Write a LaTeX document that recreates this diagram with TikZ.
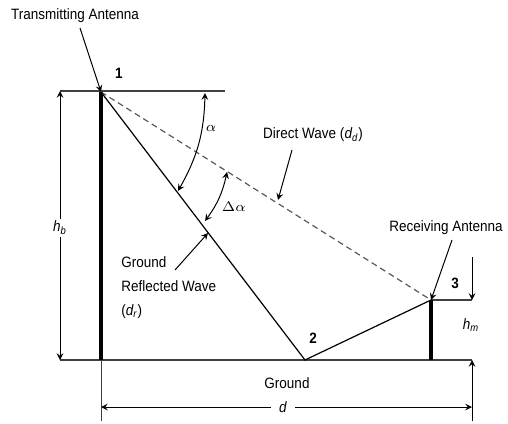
\documentclass[tikz,border=0pt]{standalone}
\usepackage{fontspec}
\setmainfont{Liberation Sans}[FakeStretch=0.9]
\usetikzlibrary{arrows}
\tikzstyle{lbl} = [font=\fontsize{7.5}{12}\selectfont, inner sep=1pt]
\tikzstyle{num} = [font=\fontsize{7.5}{9}\selectfont\bfseries, inner sep=1pt]
\tikzstyle{arrow} = [->,>=stealth,line width=0.5pt]
\tikzstyle{twoarrow} = [<->,>=stealth,line width=0.5pt]
\tikzstyle{line} = [line width=0.6pt, draw=black!75]
\tikzstyle{mast} = [line width=2pt]
\tikzstyle{wave} = [line width=0.6pt]
\tikzstyle{direct} = [line width=0.6pt, draw=black!65, dash pattern=on 3pt off 2pt]

\begin{document}
\begin{tikzpicture}[x=0.5pt, y=-0.5pt]
  \useasboundingbox (0,0) rectangle (508,423);
  \coordinate (p1) at (101,92);
  \coordinate (p2) at (305,360);
  \coordinate (p3) at (431,300);
  \coordinate (tbase) at (101,360);
  \coordinate (rbase) at (431,360);
  \coordinate (topl) at (60,91);
  \coordinate (topr) at (225,91);
  \coordinate (gndl) at (60,360);
  \coordinate (gndr) at (472,360);
  \coordinate (rtop) at (472,300);
  \coordinate (hmtop) at (472,257);
  \coordinate (extl) at (101,421);
  \coordinate (extr) at (472,421);
  \coordinate (dl) at (101,407);
  \coordinate (dr) at (472,407);

  % reference lines and ground
  \draw [line] (topl) -- (topr);
  \draw [line] (gndl) -- (gndr);
  \draw [line] (rbase) -- (gndr);
  \draw [line] (p3) -- (rtop);

  % antennas
  \draw [mast] (p1) -- (tbase);
  \draw [mast] (p3) -- (rbase);

  % waves
  \draw [direct] (p1) -- (p3);
  \draw [wave] (p1) -- (p2) -- (p3);

  % labels
  \node (tx) [lbl] at (75,16) {Transmitting Antenna};
  \node (rx) [lbl] at (446,228) {Receiving Antenna};
  \node (dw) [lbl] at (313,135) {Direct Wave (\textit{d\textsubscript{d}})};
  \node (grw) [lbl, align=left, anchor=north west] at (119,254) {Ground\\Reflected Wave\\(\textit{d\textsubscript{r}})};
  \node (gnd) [lbl] at (287,383) {Ground};
  \node (n1) [num] at (119,73) {1};
  \node (n2) [num] at (313,338) {2};
  \node (n3) [num] at (455,283) {3};
  \node (alpha) [lbl] at (211,128) {$\alpha$};
  \node (dalpha) [lbl] at (234,207) {$\Delta\alpha$};

  % pointers
  \coordinate (txs) at (80,28);
  \coordinate (rxs) at (452,240);
  \coordinate (dws) at (292,150);
  \coordinate (dwe) at (278,200);
  \coordinate (grws) at (175,270);
  \coordinate (grwe) at (208,233);
  \draw [arrow] (txs) -- (p1);
  \draw [arrow] (rxs) -- (p3);
  \draw [arrow] (dws) -- (dwe);
  \draw [arrow] (grws) -- (grwe);

  % angles
  \coordinate (a1) at (205,93);
  \coordinate (a2) at (178,191);
  \coordinate (b1) at (227,172);
  \coordinate (b2) at (205,221);
  \draw [twoarrow] (a1) to[bend left=14] (a2);
  \draw [twoarrow] (b1) to[bend left=12] (b2);

  % dimensions
  \node (hb) [lbl] at (60,228) {\textit{h\textsubscript{b}}};
  \draw [arrow] (hb) -- (topl);
  \draw [arrow] (hb) -- (gndl);
  \node (hm) [lbl] at (471,325) {\textit{h\textsubscript{m}}};
  \draw [arrow] (hmtop) -- (rtop);
  \draw [line, line width=0.5pt] (tbase) -- (extl);
  \draw [arrow] (extr) -- (gndr);
  \node (d) [lbl, fill=white, inner xsep=4pt] at (283,407) {\textit{d}};
  \draw [arrow] (d) -- (dl);
  \draw [arrow] (d) -- (dr);
\end{tikzpicture}
\end{document}
